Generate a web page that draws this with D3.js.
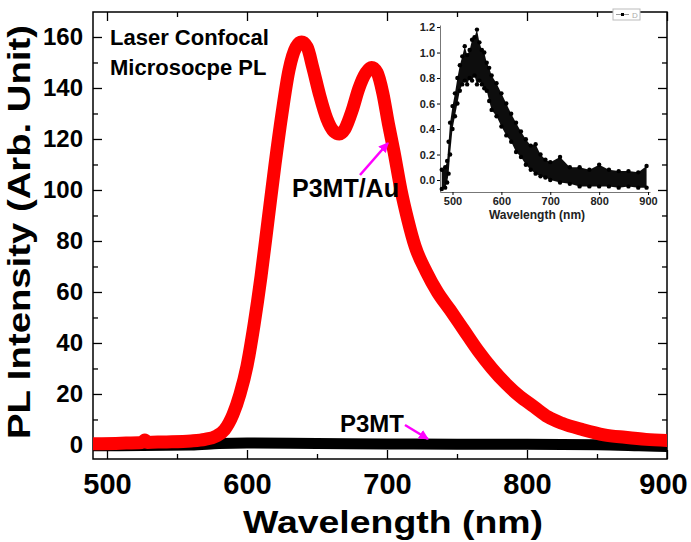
<!DOCTYPE html>
<html>
<head>
<meta charset="utf-8">
<script src="https://cdn.jsdelivr.net/npm/d3@7/dist/d3.min.js"></script>
<style>
  body { margin: 0; background: #fff; }
  svg { display: block; font-family: "Liberation Sans", Arial, sans-serif; font-weight: bold; }
</style>
</head>
<body>
<div class="chart"></div>
<script>
// main spectrum, P3MT/Au (red)
var redWl  = [490, 510, 525, 527, 529, 540, 560, 570, 578, 584, 590, 595, 600, 605, 610, 615, 620, 625, 630, 635, 639, 643, 647, 652, 657, 662, 666, 670, 675, 680, 685, 689, 693, 697, 701, 705, 710, 715, 720, 728, 736, 745, 755, 765, 775, 785, 795, 805, 815, 825, 840, 855, 870, 885, 900];
var redVal = [0.5, 0.7, 1.0, 2.0, 1.0, 1.2, 1.6, 2.2, 3.5, 6, 12, 20, 31, 47, 66, 88, 110, 130, 147, 156, 158, 156, 148, 137, 128, 123, 122, 124, 131, 140, 146, 148, 146, 138, 126, 115, 100, 88, 78, 68, 60, 53, 45, 37, 30, 24, 19, 15, 11, 8.5, 6, 4, 3, 2.2, 1.8];

// P3MT alone (black)
var blackWl  = [490, 560, 580, 600, 650, 700, 750, 800, 850, 880, 900];
var blackVal = [-0.3, 0, 0.6, 0.8, 0.6, 0.4, 0.3, 0.3, 0.1, -0.3, -0.6];

// inset: normalised P3MT spectrum, lower / upper edge of the noisy cloud
var insetWl = [478, 485, 489, 492, 495, 500, 505, 510, 515, 520, 525, 530, 535, 540, 545, 550, 555, 560, 565, 570, 575, 580, 590, 600, 610, 620, 630, 640, 650, 660, 670, 680, 690, 700, 720, 740, 760, 780, 800, 820, 840, 860, 880, 897];
var insetLo = [-0.07, -0.06, -0.02, 0.05, 0.2, 0.4, 0.5, 0.6, 0.7, 0.75, 0.78, 0.75, 0.8, 0.78, 0.82, 0.75, 0.78, 0.75, 0.72, 0.7, 0.62, 0.55, 0.5, 0.42, 0.35, 0.3, 0.22, 0.18, 0.12, 0.08, 0.05, 0.03, 0.02, 0.0, -0.02, -0.03, -0.05, -0.05, -0.05, -0.05, -0.06, -0.05, -0.06, -0.06];
var insetHi = [0.08, 0.1, 0.15, 0.3, 0.45, 0.58, 0.68, 0.8, 0.9, 0.97, 1.05, 0.98, 1.02, 1.1, 1.12, 1.18, 1.08, 1.02, 1.0, 0.92, 0.88, 0.82, 0.76, 0.68, 0.6, 0.52, 0.45, 0.38, 0.32, 0.27, 0.28, 0.2, 0.16, 0.14, 0.18, 0.1, 0.1, 0.08, 0.12, 0.08, 0.07, 0.07, 0.06, 0.11];

var xTicks = [500, 600, 700, 800, 900];
var xMinor = [550, 650, 750, 850];
var yTicks = [0, 20, 40, 60, 80, 100, 120, 140, 160];
var yMinor = [10, 30, 50, 70, 90, 110, 130, 150];
var insetXTicks = [500, 600, 700, 800, 900];
var insetYTicks = [0, 0.2, 0.4, 0.6, 0.8, 1.0, 1.2];

var W = 691, H = 542;
var box = { left: 93, right: 667, top: 12, bottom: 459 };

var svg = d3.select('.chart').append('svg')
  .attr('width', W).attr('height', H);

var x = d3.scaleLinear().domain([490, 900]).range([box.left, box.right]);
var y = d3.scaleLinear().domain([-5.5, 169.8]).range([box.bottom, box.top]);

// frame
svg.append('rect')
  .attr('x', box.left).attr('y', box.top)
  .attr('width', box.right - box.left).attr('height', box.bottom - box.top)
  .attr('fill', 'none').attr('stroke', '#000').attr('stroke-width', 1.5);

// inward ticks on all four sides
svg.append('g').attr('transform', 'translate(0,' + box.bottom + ')')
  .call(d3.axisBottom(x).tickValues(xTicks).tickSize(-9).tickFormat(d3.format('d')).tickPadding(14))
  .call(g => g.select('.domain').remove())
  .call(g => g.selectAll('text').attr('font-size', 29).attr('font-family', null).attr('fill', '#000')
    .attr('dx', d => d === 900 ? -4 : 0));
svg.append('g').attr('transform', 'translate(0,' + box.bottom + ')')
  .call(d3.axisBottom(x).tickValues(xMinor).tickSize(-5).tickFormat(''))
  .call(g => g.select('.domain').remove());
svg.append('g').attr('transform', 'translate(0,' + box.top + ')')
  .call(d3.axisTop(x).tickValues(xTicks).tickSize(-9).tickFormat(''))
  .call(g => g.select('.domain').remove());
svg.append('g').attr('transform', 'translate(0,' + box.top + ')')
  .call(d3.axisTop(x).tickValues(xMinor).tickSize(-5).tickFormat(''))
  .call(g => g.select('.domain').remove());

svg.append('g').attr('transform', 'translate(' + box.left + ',0)')
  .call(d3.axisLeft(y).tickValues(yTicks).tickSize(-9).tickPadding(10))
  .call(g => g.select('.domain').remove())
  .call(g => g.selectAll('text').attr('font-size', 24).attr('font-family', null).attr('fill', '#000'));
svg.append('g').attr('transform', 'translate(' + box.left + ',0)')
  .call(d3.axisLeft(y).tickValues(yMinor).tickSize(-5).tickFormat(''))
  .call(g => g.select('.domain').remove());
svg.append('g').attr('transform', 'translate(' + box.right + ',0)')
  .call(d3.axisRight(y).tickValues(yTicks).tickSize(-9).tickFormat(''))
  .call(g => g.select('.domain').remove());
svg.append('g').attr('transform', 'translate(' + box.right + ',0)')
  .call(d3.axisRight(y).tickValues(yMinor).tickSize(-5).tickFormat(''))
  .call(g => g.select('.domain').remove());
svg.selectAll('.tick line').attr('stroke-width', 1.3);

// axis titles
svg.append('text')
  .attr('x', 393).attr('y', 533)
  .attr('text-anchor', 'middle')
  .attr('font-size', 32)
  .attr('textLength', 300).attr('lengthAdjust', 'spacingAndGlyphs')
  .text('Wavelength (nm)');
svg.append('text')
  .attr('transform', 'translate(30,232) rotate(-90)')
  .attr('text-anchor', 'middle')
  .attr('font-size', 31)
  .attr('textLength', 414).attr('lengthAdjust', 'spacingAndGlyphs')
  .text('PL Intensity (Arb. Unit)');

// curves
svg.append('clipPath').attr('id', 'clip').append('rect')
  .attr('x', box.left).attr('y', box.top)
  .attr('width', box.right - box.left).attr('height', box.bottom - box.top);

var lineMain = d3.line()
  .x(d => x(d[0])).y(d => y(d[1]))
  .curve(d3.curveMonotoneX);

svg.append('path')
  .datum(d3.zip(blackWl, blackVal))
  .attr('clip-path', 'url(#clip)')
  .attr('d', lineMain)
  .attr('fill', 'none').attr('stroke', '#000')
  .attr('stroke-width', 11).attr('stroke-linecap', 'round');

svg.append('path')
  .datum(d3.zip(redWl, redVal))
  .attr('clip-path', 'url(#clip)')
  .attr('d', lineMain)
  .attr('fill', 'none').attr('stroke', '#ff0000')
  .attr('stroke-width', 13).attr('stroke-linecap', 'round').attr('stroke-linejoin', 'round');

// annotations
svg.append('text').attr('x', 110).attr('y', 45).attr('font-size', 22).text('Laser Confocal');
svg.append('text').attr('x', 110).attr('y', 75).attr('font-size', 22).text('Microsocpe PL');
svg.append('text').attr('x', 292).attr('y', 197).attr('font-size', 25).text('P3MT/Au');
svg.append('text').attr('x', 340).attr('y', 432).attr('font-size', 24).text('P3MT');

svg.append('defs').append('marker')
  .attr('id', 'arrow').attr('viewBox', '0 0 10 10')
  .attr('refX', 9).attr('refY', 5)
  .attr('markerWidth', 4).attr('markerHeight', 4)
  .attr('orient', 'auto')
  .append('path').attr('d', 'M0,0 L10,5 L0,10 z').attr('fill', '#ff00ff');

svg.append('line')
  .attr('x1', 360).attr('y1', 175).attr('x2', 388).attr('y2', 143)
  .attr('stroke', '#ff00ff').attr('stroke-width', 2.5).attr('marker-end', 'url(#arrow)');
svg.append('line')
  .attr('x1', 405).attr('y1', 425).attr('x2', 428).attr('y2', 439)
  .attr('stroke', '#ff00ff').attr('stroke-width', 2.5).attr('marker-end', 'url(#arrow)');

// inset
var ix = d3.scaleLinear().domain([474.4, 904]).range([440, 650]);
var iy = d3.scaleLinear().domain([-0.094, 1.216]).range([192, 25]);
var inset = svg.append('g');

inset.append('g').attr('transform', 'translate(0,192)')
  .call(d3.axisBottom(ix).tickValues(insetXTicks).tickSize(3).tickSizeOuter(0).tickPadding(2))
  .call(g => g.selectAll('text').attr('font-size', 11).attr('font-family', null).attr('fill', '#222'));
inset.append('g').attr('transform', 'translate(440,0)')
  .call(d3.axisLeft(iy).tickValues(insetYTicks).tickSize(3).tickSizeOuter(0).tickPadding(2).tickFormat(d3.format('.1f')))
  .call(g => g.selectAll('text').attr('font-size', 11).attr('font-family', null).attr('fill', '#222'));
inset.selectAll('.domain').attr('stroke', '#777');
inset.append('text')
  .attr('x', 537).attr('y', 219)
  .attr('text-anchor', 'middle').attr('font-size', 12).attr('fill', '#222')
  .text('Wavelength (nm)');

var insetPts = d3.zip(insetWl, insetLo, insetHi);
inset.append('path')
  .datum(insetPts)
  .attr('d', d3.area().x(d => ix(d[0])).y0(d => iy(d[1])).y1(d => iy(d[2])).curve(d3.curveLinear))
  .attr('fill', '#000').attr('opacity', 0.95);
inset.selectAll('circle.lo')
  .data(insetPts).enter().append('circle')
  .attr('cx', d => ix(d[0])).attr('cy', d => iy(d[1])).attr('r', 2.2).attr('fill', '#000');
inset.selectAll('circle.hi')
  .data(insetPts).enter().append('circle')
  .attr('cx', d => ix(d[0])).attr('cy', d => iy(d[2])).attr('r', 2.2).attr('fill', '#000');

// inset legend
var leg = inset.append('g').attr('transform', 'translate(613,9)');
leg.append('rect').attr('width', 27).attr('height', 11)
  .attr('fill', '#fff').attr('stroke', '#bbb').attr('stroke-width', 1);
leg.append('line').attr('x1', 3).attr('x2', 16).attr('y1', 5.5).attr('y2', 5.5)
  .attr('stroke', '#999').attr('stroke-width', 1);
leg.append('rect').attr('x', 8).attr('y', 4).attr('width', 3).attr('height', 3).attr('fill', '#000');
leg.append('text').attr('x', 19).attr('y', 9).attr('font-size', 8).attr('font-weight', 'normal')
  .attr('fill', '#aaa').text('D');
</script>
</body>
</html>
